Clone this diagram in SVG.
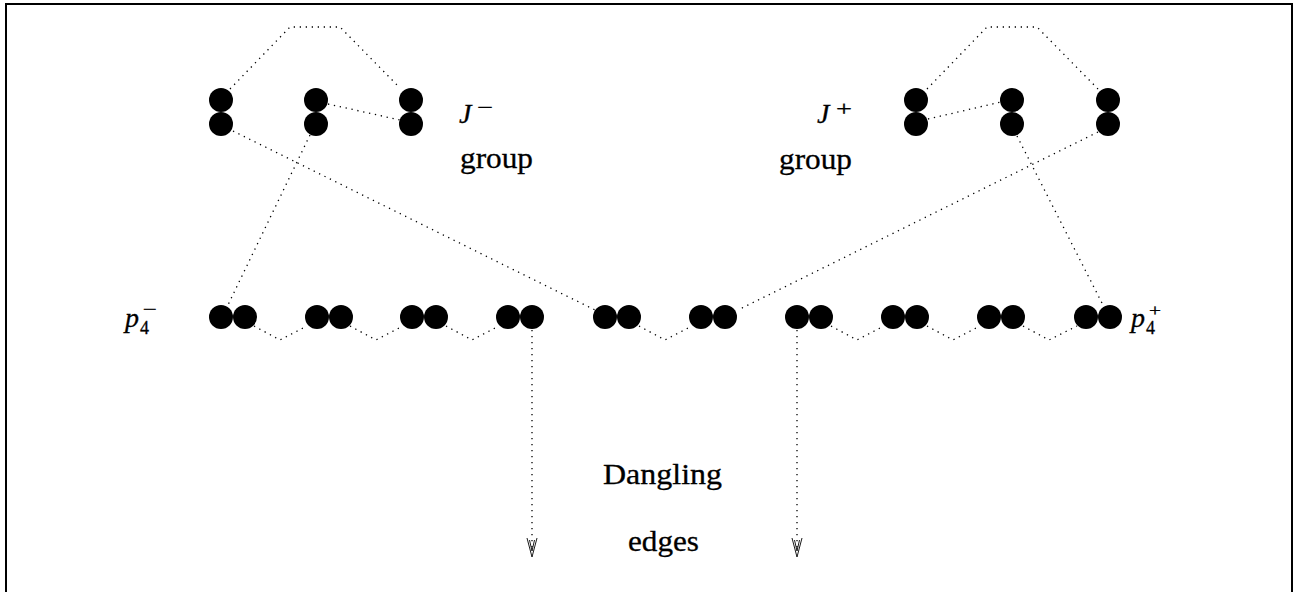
<svg xmlns="http://www.w3.org/2000/svg" width="1301" height="592" viewBox="0 0 1301 592">
  <style>
    .dot { fill: #000; }
    .edge { fill: none; stroke: #000; stroke-width: 1.3; stroke-dasharray: 1.3 4.7; stroke-linecap: butt; }
    .head { fill: none; stroke: #000; stroke-width: 0.9; }
    .lbl { font-family: "Liberation Serif", "Times New Roman", serif; fill: #000; stroke: #000; stroke-width: 0.3; }
    .mi { font-family: "Liberation Serif", "Times New Roman", serif; font-style: italic; fill: #000; stroke: #000; stroke-width: 0.3; }
  </style>
  <defs>
    <!-- a vertical pair of vertices (upper and lower) -->
    <g id="vpair">
      <circle class="dot" cx="0" cy="0" r="12"/>
      <circle class="dot" cx="0" cy="24" r="12"/>
    </g>
    <!-- a horizontal pair of vertices (left and right) -->
    <g id="hpair">
      <circle class="dot" cx="0" cy="0" r="12"/>
      <circle class="dot" cx="24" cy="0" r="12"/>
    </g>
    <!-- hollow downward arrowhead, tip at origin -->
    <g id="arrowDown">
      <path class="head" d="M -5 -19 L 0 0 L 5 -19 M -2.5 -17 L 0 -6 L 2.5 -17"/>
    </g>
  </defs>

  <!-- frame -->
  <rect x="6" y="4" width="1286" height="700" fill="none" stroke="#000" stroke-width="2"/>

  <!-- connectors -->
  <g id="connectors">
    <!-- J- group -->
    <polyline class="edge" points="230,89 290,27 340,27 400,88"/>
    <line class="edge" x1="328" y1="104" x2="400" y2="120"/>
    <line class="edge" x1="233" y1="131" x2="595" y2="310"/>
    <line class="edge" x1="310" y1="135" x2="227" y2="307"/>
    <!-- J+ group -->
    <polyline class="edge" points="927,89 987,27 1037,27 1098,89"/>
    <line class="edge" x1="928" y1="119" x2="1001" y2="102"/>
    <line class="edge" x1="1098" y1="132" x2="738" y2="310"/>
    <line class="edge" x1="1017" y1="136" x2="1104" y2="307"/>
    <!-- zigzags along the path -->
    <polyline class="edge" points="254,326 280,340 307,326"/>
    <polyline class="edge" points="350,326 376,340 403,326"/>
    <polyline class="edge" points="446,326 472,340 499,326"/>
    <polyline class="edge" points="639,326 665,340 692,326"/>
    <polyline class="edge" points="831,326 857,340 884,326"/>
    <polyline class="edge" points="927,326 953,340 980,326"/>
    <polyline class="edge" points="1023,326 1049,340 1077,326"/>
    <!-- dangling edges -->
    <line class="edge" x1="532" y1="330" x2="532" y2="552"/>
    <use href="#arrowDown" x="532" y="557"/>
    <line class="edge" x1="797" y1="330" x2="797" y2="552"/>
    <use href="#arrowDown" x="797" y="557"/>
  </g>

  <!-- J- group vertices -->
  <g id="jm1"><use href="#vpair" x="221" y="100"/></g>
  <g id="jm2"><use href="#vpair" x="316" y="100"/></g>
  <g id="jm3"><use href="#vpair" x="411" y="100"/></g>

  <!-- J+ group vertices -->
  <g id="jp1"><use href="#vpair" x="916" y="100"/></g>
  <g id="jp2"><use href="#vpair" x="1012" y="100"/></g>
  <g id="jp3"><use href="#vpair" x="1108" y="100"/></g>

  <!-- path vertices -->
  <g id="p1"><use href="#hpair" x="221" y="317"/></g>
  <g id="p2"><use href="#hpair" x="317" y="317"/></g>
  <g id="p3"><use href="#hpair" x="412" y="317"/></g>
  <g id="p4"><use href="#hpair" x="508" y="317"/></g>
  <g id="p5"><use href="#hpair" x="605" y="317"/></g>
  <g id="p6"><use href="#hpair" x="701" y="317"/></g>
  <g id="p7"><use href="#hpair" x="797" y="317"/></g>
  <g id="p8"><use href="#hpair" x="893" y="317"/></g>
  <g id="p9"><use href="#hpair" x="989" y="317"/></g>
  <g id="p10"><use href="#hpair" x="1086" y="317"/></g>

  <!-- labels -->
  <g id="label-jminus">
    <text class="mi" x="459" y="123" font-size="28">J</text>
    <text class="lbl" x="477" y="114" font-size="20" textLength="16" lengthAdjust="spacingAndGlyphs">−</text>
    <text class="lbl" x="460" y="168" font-size="30" textLength="73" lengthAdjust="spacingAndGlyphs">group</text>
  </g>
  <g id="label-jplus">
    <text class="mi" x="817" y="123" font-size="28">J</text>
    <text class="lbl" x="836" y="116" font-size="22" textLength="16" lengthAdjust="spacingAndGlyphs">+</text>
    <text class="lbl" x="779" y="169" font-size="30" textLength="73" lengthAdjust="spacingAndGlyphs">group</text>
  </g>
  <g id="label-pminus">
    <text class="mi" x="125" y="327" font-size="28">p</text>
    <text class="lbl" x="140" y="334" font-size="18">4</text>
    <text class="lbl" x="143" y="314" font-size="14" textLength="14" lengthAdjust="spacingAndGlyphs">−</text>
  </g>
  <g id="label-pplus">
    <text class="mi" x="1131" y="327" font-size="28">p</text>
    <text class="lbl" x="1146" y="334" font-size="18">4</text>
    <text class="lbl" x="1149" y="316" font-size="16" textLength="12" lengthAdjust="spacingAndGlyphs">+</text>
  </g>
  <g id="label-dangling">
    <text class="lbl" x="603" y="484" font-size="30" textLength="119" lengthAdjust="spacingAndGlyphs">Dangling</text>
    <text class="lbl" x="628" y="551" font-size="30" textLength="71" lengthAdjust="spacingAndGlyphs">edges</text>
  </g>
</svg>
